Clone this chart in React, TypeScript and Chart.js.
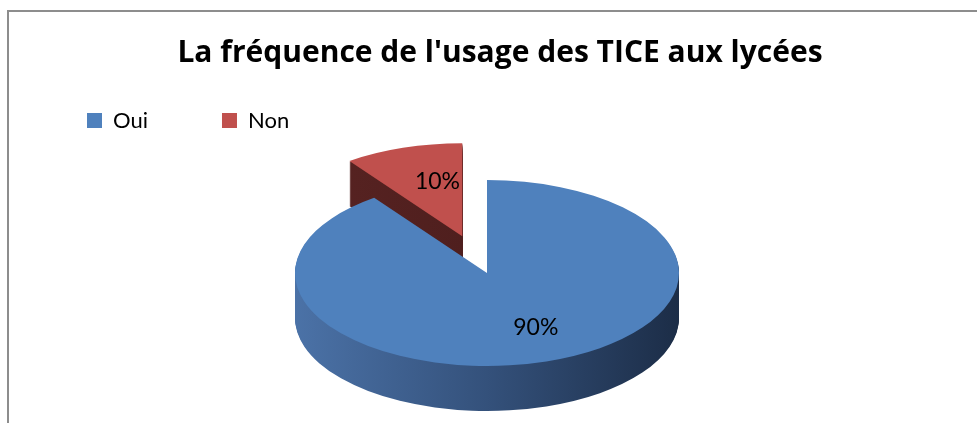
import React, { useEffect, useRef } from "react";
import { Chart, registerables } from "chart.js";

Chart.register(...registerables);

// ---- data ----
const TITLE = "La fréquence de l'usage des TICE aux lycées";
const categories = ["Oui", "Non"];
const values = [90, 10];
const sliceColors = ["#4f81bd", "#c0504d"];
// side wall gradient stops per slice (left -> right)
const sideStops = [
  ["#4b72a7", "#34517b", "#1c2d47"],
  ["#5a2423", "#4f1f1e", "#3f1817"],
];
// explode distance (px) of each slice along its bisector
const explode = [0, 80];

// ---- presentation ----
const FONT = "Lato, 'Open Sans', sans-serif";
const TITLE_FONT = "'Open Sans', Lato, sans-serif";
const RADIUS = 192;
const TILT = 0.484;
const DEPTH = 45;
const SHIFT_X = -8;
const LABEL_RATIO = 0.62;
const LABEL_DX = 12;

const framePlugin = {
  id: "frame",
  beforeDraw(chart: any) {
    const ctx = chart.ctx;
    ctx.save();
    ctx.strokeStyle = "#8d8d8d";
    ctx.lineWidth = 2;
    ctx.beginPath();
    ctx.moveTo(8, chart.height + 2);
    ctx.lineTo(8, 11);
    ctx.lineTo(chart.width + 2, 11);
    ctx.stroke();
    ctx.restore();
  },
};

const pie3dPlugin = {
  id: "pie3d",
  beforeDatasetDraw(chart: any, args: any) {
    const arcs = args.meta.data as any[];
    if (!arcs.length) return false;
    const ctx: CanvasRenderingContext2D = chart.ctx;
    const cx = arcs[0].x;
    const cy = arcs[0].y;
    const R = arcs[0].outerRadius;
    const data = chart.data.datasets[args.index].data as number[];
    const total = data.reduce((a, b) => a + b, 0);

    const explodeVec = (arc: any, i: number) => {
      const mid = (arc.startAngle + arc.endAngle) / 2;
      const d = explode[i] || 0;
      return [Math.cos(mid) * d, Math.sin(mid) * d];
    };

    ctx.save();
    ctx.translate(cx + SHIFT_X, cy);
    ctx.scale(1, TILT);
    ctx.translate(-cx, -cy);

    const sideArcs = arcs.map((arc, i) => {
      const stops = sideStops[i % sideStops.length];
      const g = ctx.createLinearGradient(cx - R, 0, cx + R, 0);
      stops.forEach((c, k) => g.addColorStop(k / (stops.length - 1), c));
      const s = Object.create(arc);
      s.options = { ...arc.options, backgroundColor: g, borderWidth: 0 };
      return s;
    });

    // side walls
    for (let layer = DEPTH; layer >= 1; layer--) {
      arcs.forEach((arc, i) => {
        const [ex, ey] = explodeVec(arc, i);
        ctx.save();
        ctx.translate(ex, ey + layer / TILT);
        sideArcs[i].draw(ctx);
        ctx.restore();
      });
    }
    // top faces
    arcs.forEach((arc, i) => {
      const [ex, ey] = explodeVec(arc, i);
      ctx.save();
      ctx.translate(ex, ey);
      arc.draw(ctx);
      ctx.restore();
    });
    ctx.restore();

    // percentage labels
    ctx.save();
    ctx.font = `23px ${FONT}`;
    ctx.fillStyle = "#000";
    ctx.textAlign = "center";
    ctx.textBaseline = "middle";
    arcs.forEach((arc, i) => {
      const mid = (arc.startAngle + arc.endAngle) / 2;
      const [ex, ey] = explodeVec(arc, i);
      const ux = cx + ex + Math.cos(mid) * R * LABEL_RATIO;
      const uy = cy + ey + Math.sin(mid) * R * LABEL_RATIO;
      const sx = ux + SHIFT_X + LABEL_DX;
      const sy = cy + (uy - cy) * TILT;
      ctx.fillText(Math.round((data[i] / total) * 100) + "%", sx, sy);
    });
    ctx.restore();
    return false;
  },
};

export default function App() {
  const ref = useRef<HTMLCanvasElement | null>(null);
  useEffect(() => {
    if (!ref.current) return;
    const chart = new Chart(ref.current, {
      type: "pie",
      data: {
        labels: categories,
        datasets: [
          {
            data: values,
            backgroundColor: sliceColors,
            borderWidth: 0,
            radius: RADIUS,
            clip: false as any,
          } as any,
        ],
      },
      options: {
        responsive: true,
        maintainAspectRatio: false,
        animation: false,
        events: [],
        layout: { padding: { top: 10, left: 13, right: -10, bottom: 18.5 } },
        plugins: {
          title: {
            display: true,
            text: TITLE,
            color: "#000",
            font: { family: TITLE_FONT, size: 30, weight: "bold" },
            padding: { top: 25, bottom: -35.5 },
          },
          legend: {
            display: true,
            position: "top",
            align: "start",
            labels: {
              color: "#000",
              font: { family: FONT, size: 22 },
              boxWidth: 15,
              boxHeight: 15,
              padding: 74,
            },
          },
          tooltip: { enabled: false },
        },
      },
      plugins: [framePlugin, pie3dPlugin],
    });
    return () => chart.destroy();
  }, []);
  return (
    <div style={{ position: "absolute", left: 0, top: 0, width: 977, height: 423 }}>
      <canvas ref={ref} />
    </div>
  );
}
